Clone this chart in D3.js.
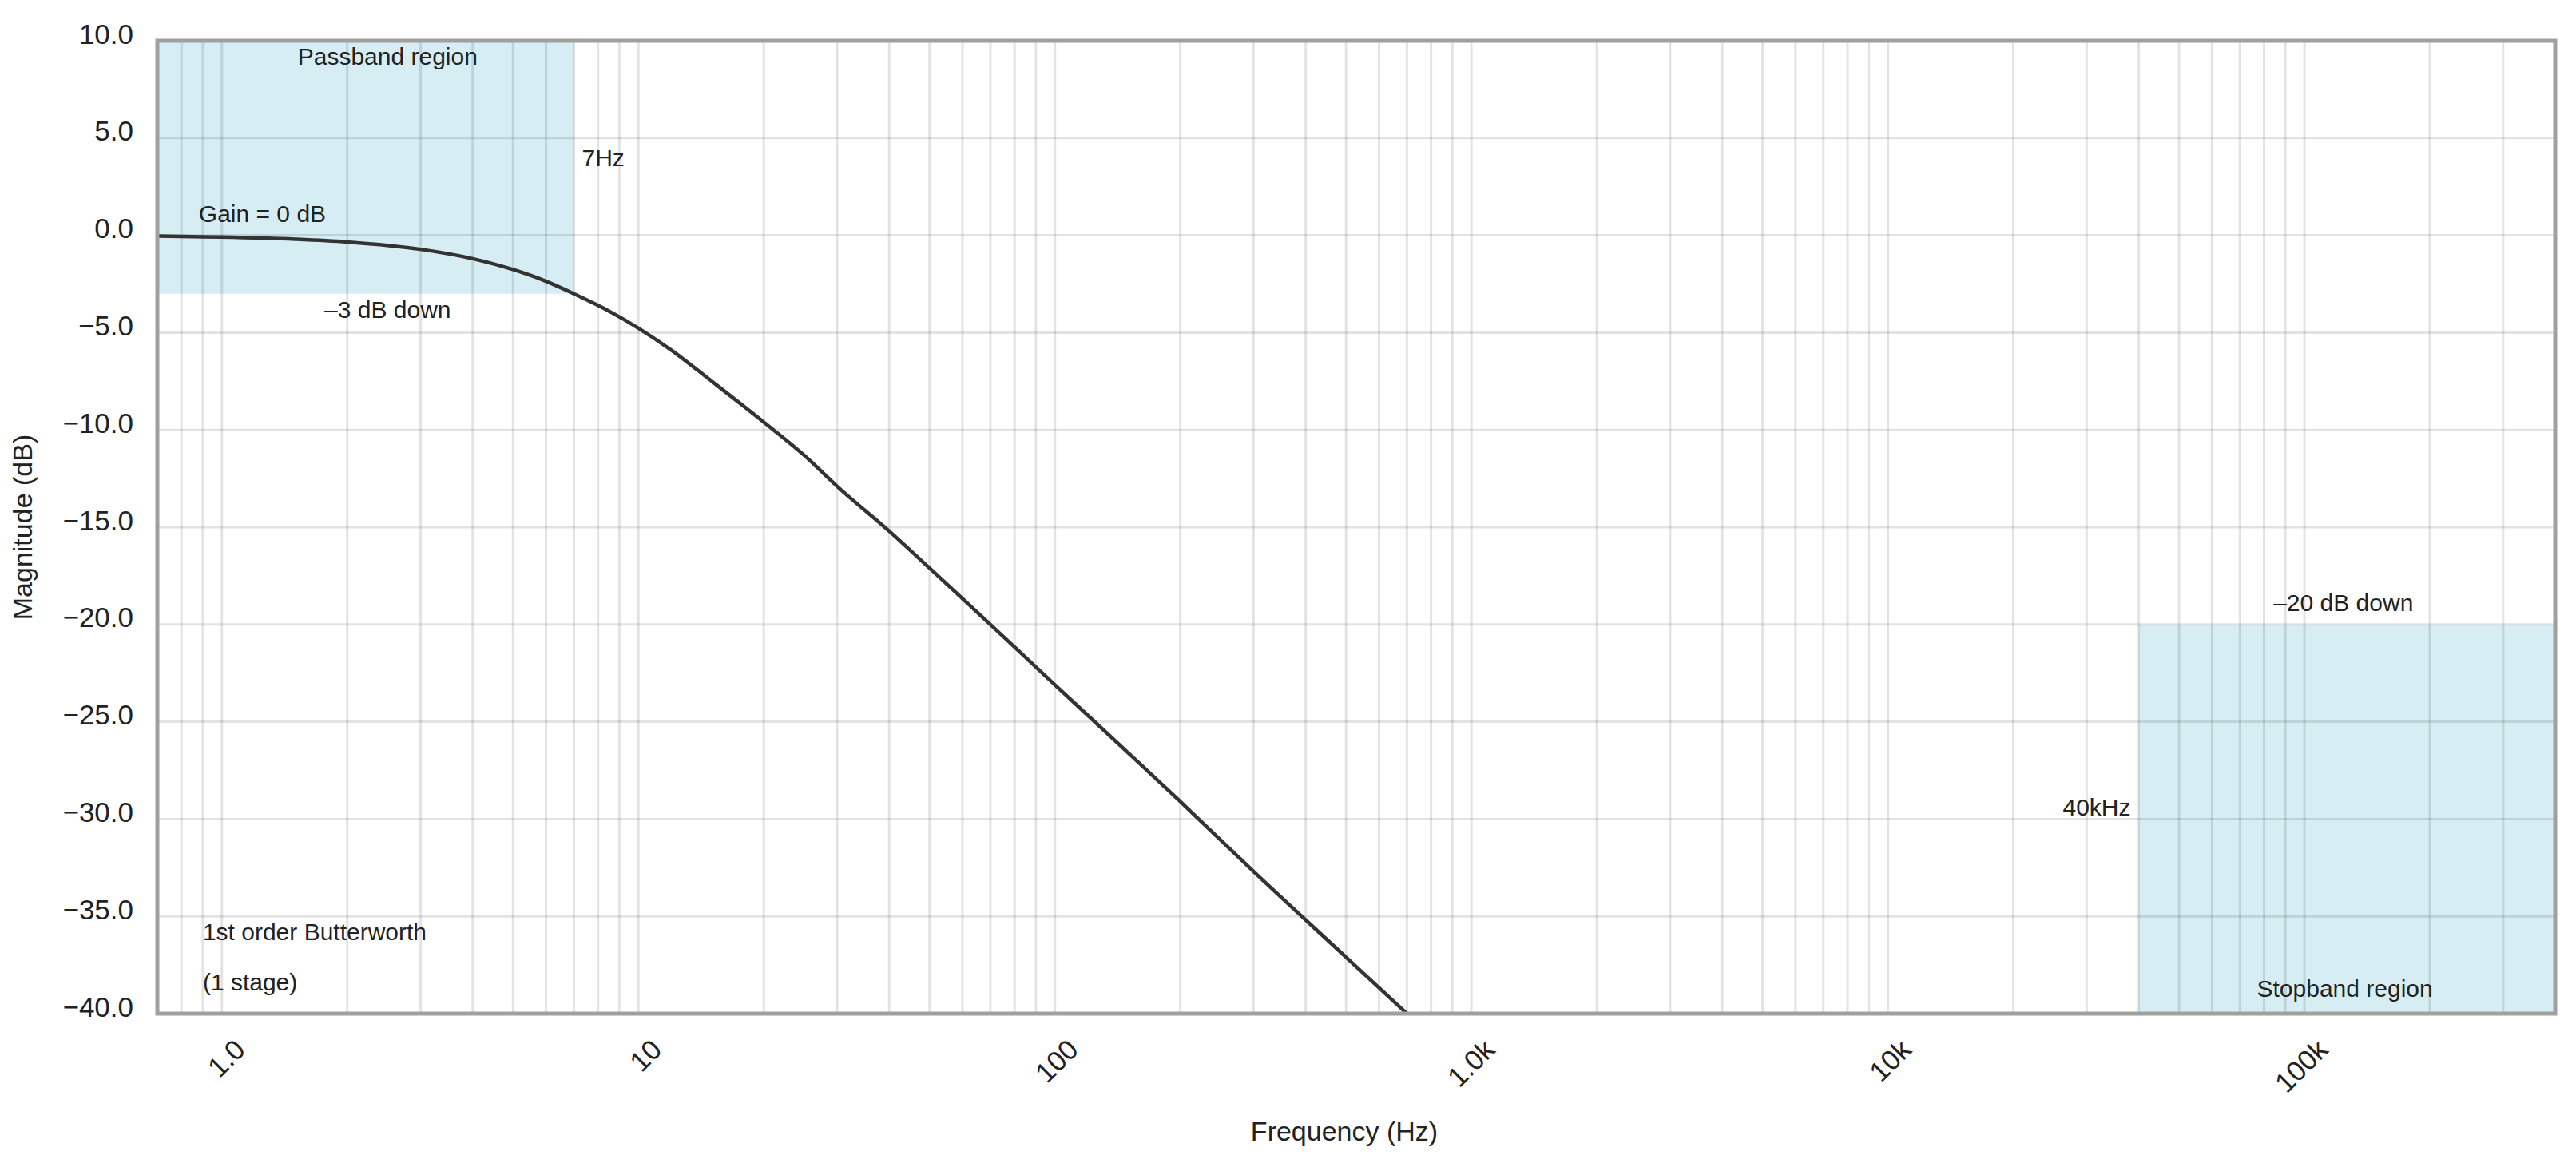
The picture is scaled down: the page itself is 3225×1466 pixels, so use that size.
<!DOCTYPE html>
<html>
<head>
<meta charset="utf-8">
<script src="https://cdn.jsdelivr.net/npm/d3@7"></script>
<style>
  body { margin: 0; background: #fff; }
  text { font-family: "Liberation Sans", Arial, sans-serif; fill: #222; }
</style>
</head>
<body>
<div id="chart"></div>
<script>
// response (Hz, dB)
var freqs = [0.7, 1, 1.5, 2, 3, 4, 5, 6, 7, 8, 10, 12, 15, 20, 25, 30, 40, 50, 70, 100, 150, 200, 300, 500, 700];
var mags = [-0.04, -0.09, -0.2, -0.34, -0.72, -1.2, -1.76, -2.36, -3.0, -3.6, -4.77, -5.9, -7.5, -9.6, -11.3, -12.9, -15.2, -17.1, -20.0, -23.1, -26.6, -29.1, -32.7, -37.1, -40.0];
var yTicks = [10, 5, 0, -5, -10, -15, -20, -25, -30, -35, -40];
var xTicks = [1, 10, 100, 1000, 10000, 100000];
var xTickLabels = ["1.0", "10", "100", "1.0k", "10k", "100k"];
var passband = { f0: 0.7, f1: 7, top: 10, bottom: -3 };
var stopband = { f0: 40000, f1: 400000, top: -20, bottom: -40 };

var W = 3225, H = 1466;
var margin = { left: 197, right: 26, top: 51, bottom: 197 };
var w = W - margin.left - margin.right, h = H - margin.top - margin.bottom;

var svg = d3.select("#chart").append("svg")
  .attr("width", W).attr("height", H);
var g = svg.append("g").attr("transform", "translate(" + margin.left + "," + margin.top + ")");

var x = d3.scaleLog().domain([0.7, 400000]).range([0, w]);
var y = d3.scaleLinear().domain([-40, 10]).range([h, 0]);

// shaded regions
g.append("rect")
  .attr("x", x(passband.f0)).attr("y", y(passband.top))
  .attr("width", x(passband.f1) - x(passband.f0))
  .attr("height", y(passband.bottom) - y(passband.top))
  .style("fill", "#d5edf3");
g.append("rect")
  .attr("x", x(stopband.f0)).attr("y", y(stopband.top))
  .attr("width", x(stopband.f1) - x(stopband.f0))
  .attr("height", y(stopband.bottom) - y(stopband.top))
  .style("fill", "#d5edf3");

// grid
var minor = [];
for (var d = 0.1; d < 1e6; d *= 10)
  for (var k = 1; k < 10; k++) {
    var v = d * k;
    if (v > 0.7 && v < 400000) minor.push(v);
  }
g.selectAll(".vgrid").data(minor).enter().append("line")
  .attr("x1", function (d) { return x(d); }).attr("x2", function (d) { return x(d); })
  .attr("y1", 0).attr("y2", h)
  .style("stroke", "#000").style("stroke-opacity", 0.11).style("stroke-width", 3);
g.selectAll(".hgrid").data(yTicks).enter().append("line")
  .attr("x1", 0).attr("x2", w)
  .attr("y1", function (d) { return y(d); }).attr("y2", function (d) { return y(d); })
  .style("stroke", "#000").style("stroke-opacity", 0.11).style("stroke-width", 3);

// curve
var line = d3.line()
  .x(function (d, i) { return x(freqs[i]); })
  .y(function (d) { return y(d); })
  .curve(d3.curveMonotoneX);
g.append("path").datum(mags)
  .attr("d", line)
  .style("fill", "none").style("stroke", "#333").style("stroke-width", 4.5);

// frame
g.append("rect").attr("x", 0).attr("y", 0).attr("width", w).attr("height", h)
  .style("fill", "none").style("stroke", "#a0a0a0").style("stroke-width", 5);

// y ticks
g.selectAll(".ylab").data(yTicks).enter().append("text")
  .attr("x", -30).attr("y", function (d) { return y(d); })
  .attr("dy", "0.1em")
  .attr("text-anchor", "end")
  .style("font-size", "35px")
  .text(function (d) { return d3.format(".1f")(d).replace("-", "\u2212"); });

// x ticks
g.selectAll(".xlab").data(xTicks).enter().append("text")
  .attr("transform", function (d) { return "translate(" + (x(d) + 14) + "," + (h + 30) + ") rotate(-45)"; })
  .attr("text-anchor", "end")
  .attr("dy", "0.7em")
  .style("font-size", "35px")
  .text(function (d, i) { return xTickLabels[i]; });

// axis titles
svg.append("text")
  .attr("x", 1683).attr("y", 1428)
  .attr("text-anchor", "middle").style("font-size", "34px")
  .text("Frequency (Hz)");
svg.append("text")
  .attr("transform", "translate(40," + (margin.top + h / 2) + ") rotate(-90)")
  .attr("text-anchor", "middle").style("font-size", "34px")
  .text("Magnitude (dB)");

// annotations
function note(tx, ty, s, anchor) {
  g.append("text").attr("x", tx).attr("y", ty)
    .attr("text-anchor", anchor || "start")
    .attr("dominant-baseline", "middle")
    .style("font-size", "30px").text(s);
}
note(x(2.5), y(9.1), "Passband region", "middle");
note(x(7) + 10, y(3.9), "7Hz");
note(x(0.88), y(1.0), "Gain = 0 dB");
note(x(2.5), y(-3.9), "\u20133 dB down", "middle");
note(x(0.9), y(-35.9), "1st order Butterworth");
note(x(0.9), y(-38.5), "(1 stage)");
note(x(124000), y(-19.0), "\u201320 dB down", "middle");
note(x(40000) - 10, y(-29.5), "40kHz", "end");
note(x(125000), y(-38.8), "Stopband region", "middle");
</script>
</body>
</html>
